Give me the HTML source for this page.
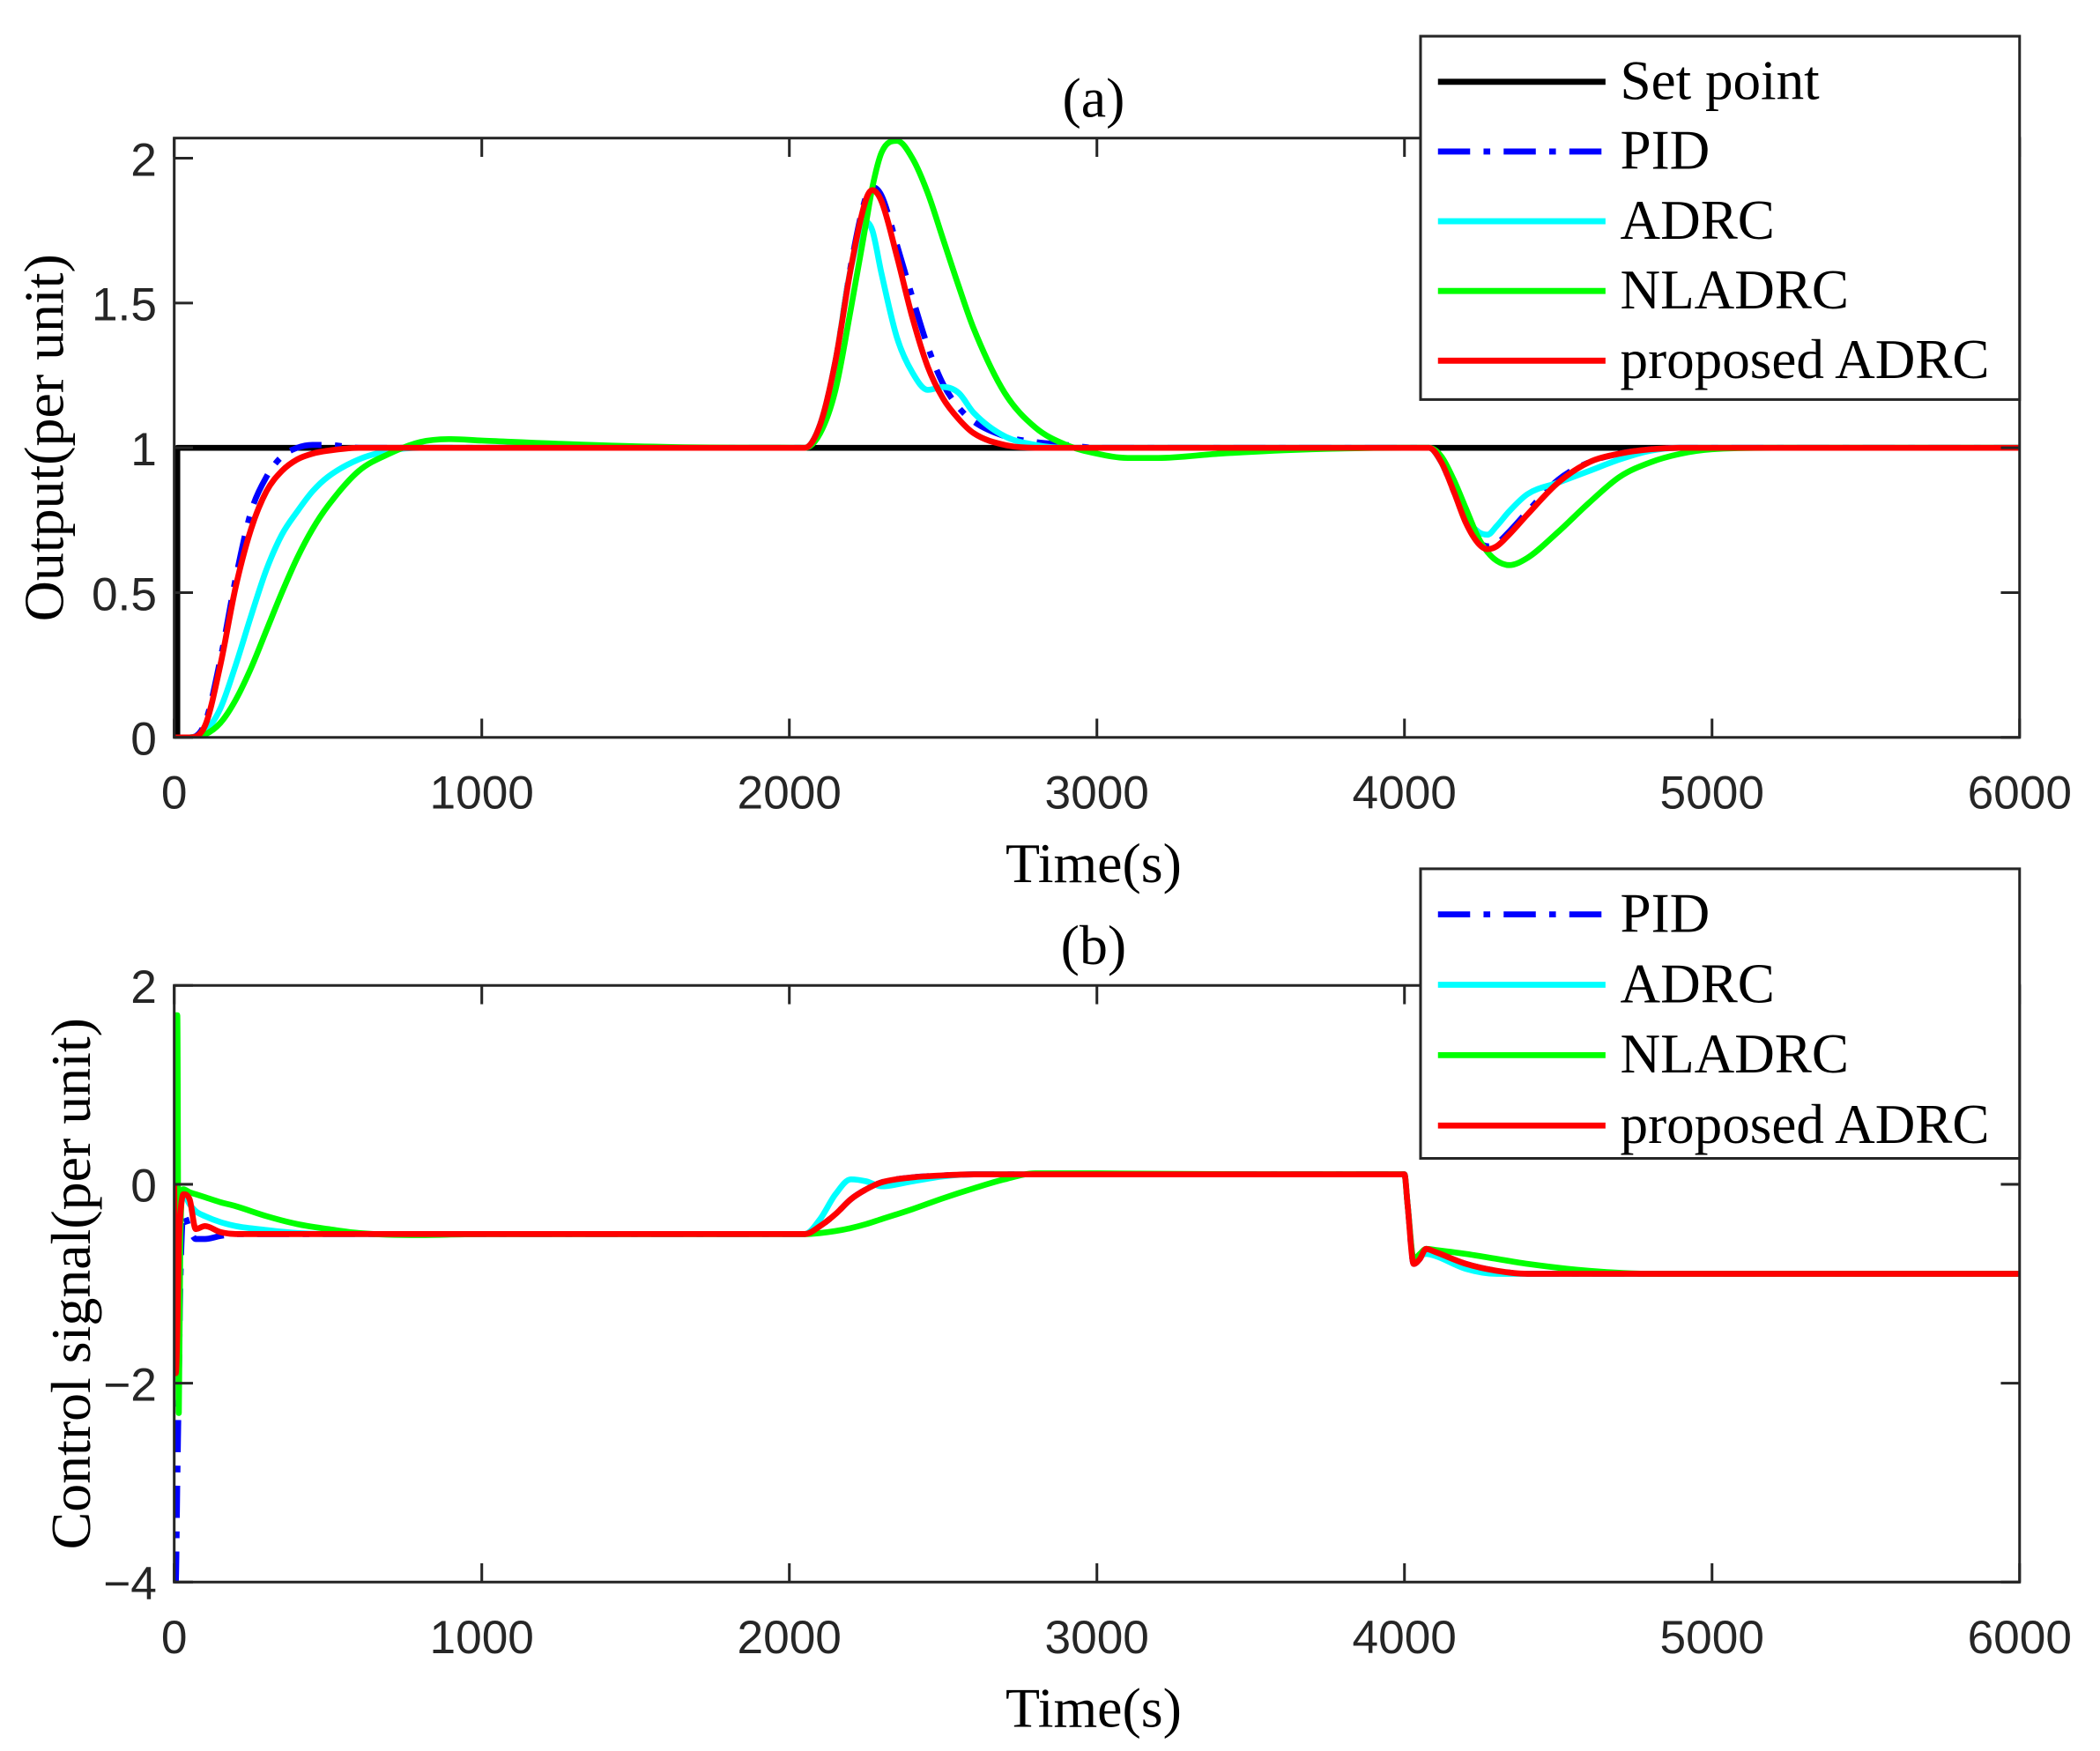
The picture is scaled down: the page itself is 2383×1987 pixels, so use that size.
<!DOCTYPE html>
<html><head><meta charset="utf-8"><style>
html,body{margin:0;padding:0;background:#fff}
svg{display:block}
.tick{font-family:"Liberation Sans",sans-serif;font-size:35px;fill:#262626}
.lab{font-family:"Liberation Serif",serif;font-size:42px;fill:#000}
.leg{font-family:"Liberation Serif",serif;font-size:41.5px;fill:#000}
</style></head><body>
<svg id="fig" width="2383" height="1987" viewBox="0 0 1567 1306" preserveAspectRatio="none" xmlns="http://www.w3.org/2000/svg"></svg>
<script>
// ---- data: panel (a) output ----
const tA = [0,50,100,150,200,250,300,350,400,450,500,600,700,800,900,1000,1500,2000,2050,2100,2150,2200,2250,2270,2300,2350,2400,2450,2500,2550,2600,2700,2800,2900,3000,3100,3200,3400,3700,4000,4080,4120,4160,4200,4240,4270,4300,4340,4400,4500,4600,4700,4800,4900,5000,5200,6000];
const setT = [0,10,10,6000];
const setV = [0,0,1,1];
const pidA = [0,0,0.05,0.27,0.55,0.78,0.9,0.97,1.0,1.01,1.01,1.0,1.0,1.0,1.0,1.0,1.0,1.0,1.0,1.08,1.3,1.63,1.87,1.9,1.87,1.7,1.52,1.35,1.22,1.14,1.09,1.04,1.02,1.01,1.0,1.0,1.0,1.0,1.0,1.0,1.0,0.95,0.85,0.75,0.68,0.66,0.67,0.71,0.78,0.89,0.95,0.98,0.995,1.0,1.0,1.0,1.0];
const adrcA = [0,0,0.02,0.1,0.25,0.42,0.58,0.7,0.78,0.85,0.9,0.96,0.99,1.0,1.0,1.0,1.0,1.0,1.0,1.08,1.3,1.62,1.78,1.75,1.6,1.38,1.26,1.2,1.21,1.19,1.12,1.04,1.01,1.0,1.0,1.0,1.0,1.0,1.0,1.0,1.0,0.95,0.86,0.76,0.71,0.70,0.73,0.78,0.84,0.88,0.92,0.96,0.99,1.0,1.0,1.0,1.0];
const nlA = [0,0,0.01,0.05,0.13,0.24,0.37,0.5,0.62,0.72,0.8,0.92,0.98,1.02,1.03,1.025,1.005,1.0,1.0,1.05,1.2,1.48,1.78,1.9,2.02,2.06,2.0,1.88,1.72,1.56,1.41,1.19,1.07,1.01,0.98,0.965,0.965,0.98,0.995,1.0,1.0,0.97,0.89,0.79,0.69,0.64,0.61,0.595,0.62,0.71,0.81,0.9,0.95,0.98,0.995,1.0,1.0];
const propA = [0,0,0.04,0.25,0.52,0.72,0.85,0.92,0.96,0.98,0.99,1.0,1.0,1.0,1.0,1.0,1.0,1.0,1.0,1.08,1.3,1.62,1.86,1.89,1.85,1.66,1.45,1.28,1.17,1.1,1.05,1.01,1.0,1.0,1.0,1.0,1.0,1.0,1.0,1.0,1.0,0.95,0.85,0.74,0.67,0.65,0.66,0.7,0.77,0.88,0.95,0.98,0.995,1.0,1.0,1.0,1.0];
// ---- data: panel (b) control signal ----
const tB = [0,5,10,15,20,30,50,70,100,150,200,300,400,500,600,800,1000,2000,2050,2100,2150,2200,2250,2300,2400,2500,2600,2700,2800,3000,3500,4000,4010,4030,4050,4070,4100,4200,4300,4400,4600,4800,5000,6000];
const pidB = [-4,-4,-3,-2,-1,-0.3,-0.45,-0.55,-0.55,-0.52,-0.5,-0.5,-0.5,-0.5,-0.5,-0.5,-0.5,-0.5,-0.5,-0.42,-0.3,-0.15,-0.05,0.02,0.07,0.09,0.1,0.1,0.1,0.1,0.1,0.1,-0.2,-0.8,-0.75,-0.65,-0.68,-0.8,-0.87,-0.9,-0.9,-0.9,-0.9,-0.9];
const adrcB = [0,-0.5,-0.3,-0.15,-0.1,-0.1,-0.2,-0.27,-0.32,-0.38,-0.42,-0.46,-0.49,-0.5,-0.5,-0.5,-0.5,-0.5,-0.5,-0.35,-0.1,0.05,0.03,-0.02,0.03,0.08,0.1,0.1,0.1,0.1,0.1,0.1,-0.2,-0.75,-0.72,-0.7,-0.72,-0.85,-0.9,-0.9,-0.9,-0.9,-0.9,-0.9];
const nlB = [0,1.7,1.7,-2.3,-0.5,-0.05,-0.08,-0.1,-0.13,-0.18,-0.22,-0.32,-0.4,-0.45,-0.49,-0.51,-0.5,-0.5,-0.5,-0.49,-0.47,-0.44,-0.4,-0.35,-0.25,-0.14,-0.04,0.05,0.11,0.11,0.1,0.1,-0.2,-0.75,-0.7,-0.65,-0.66,-0.7,-0.75,-0.8,-0.87,-0.9,-0.9,-0.9];
const propB = [0,-1.9,-1.5,-0.6,-0.3,-0.1,-0.15,-0.45,-0.42,-0.48,-0.5,-0.5,-0.5,-0.5,-0.5,-0.5,-0.5,-0.5,-0.5,-0.42,-0.3,-0.15,-0.05,0.02,0.07,0.09,0.1,0.1,0.1,0.1,0.1,0.1,-0.2,-0.8,-0.75,-0.65,-0.68,-0.8,-0.87,-0.9,-0.9,-0.9,-0.9,-0.9];
const xTicks = [0,1000,2000,3000,4000,5000,6000];
const yTicksA = [0,0.5,1,1.5,2];
const yTicksB = [-4,-2,0,2];
const yTickLabA = ["0","0.5","1","1.5","2"];
const yTickLabB = ["\u22124","\u22122","0","2"];

const NS = "http://www.w3.org/2000/svg";
const svg = document.getElementById('fig');
function el(tag, attrs, parent){
  const e = document.createElementNS(NS, tag);
  for (const k in attrs) e.setAttribute(k, attrs[k]);
  (parent||svg).appendChild(e);
  return e;
}
const X0 = 130, X1 = 1507;
const xs = t => X0 + (t/6000)*(X1-X0);

function monoPath(P){
  const n = P.length;
  if (n < 3) return P.map((p,i)=>(i?'L':'M')+p[0].toFixed(2)+' '+p[1].toFixed(2)).join(' ');
  const d = [], m = new Array(n).fill(0);
  for (let i=0;i<n-1;i++){ const dx=P[i+1][0]-P[i][0]; d.push(dx>1e-9?(P[i+1][1]-P[i][1])/dx:0); }
  m[0]=d[0]; m[n-1]=d[n-2];
  for (let i=1;i<n-1;i++){ m[i] = (d[i-1]*d[i]<=0)?0:(d[i-1]+d[i])/2; }
  for (let i=0;i<n-1;i++){
    if (Math.abs(d[i])<1e-12){ m[i]=0; m[i+1]=0; continue; }
    const a=m[i]/d[i], b=m[i+1]/d[i], s=a*a+b*b;
    if (s>9){ const t=3/Math.sqrt(s); m[i]=t*a*d[i]; m[i+1]=t*b*d[i]; }
  }
  let out = 'M'+P[0][0].toFixed(2)+' '+P[0][1].toFixed(2);
  for (let i=0;i<n-1;i++){
    const dx=P[i+1][0]-P[i][0];
    if (dx<1e-9){ out+=' L'+P[i+1][0].toFixed(2)+' '+P[i+1][1].toFixed(2); continue; }
    const c1x=P[i][0]+dx/3, c1y=P[i][1]+m[i]*dx/3, c2x=P[i+1][0]-dx/3, c2y=P[i+1][1]-m[i+1]*dx/3;
    out+=' C'+c1x.toFixed(2)+' '+c1y.toFixed(2)+' '+c2x.toFixed(2)+' '+c2y.toFixed(2)+' '+P[i+1][0].toFixed(2)+' '+P[i+1][1].toFixed(2);
  }
  return out;
}

function panel(cfg){
  const ys = v => cfg.yPix0 + (v - cfg.v0)*(cfg.yPix1 - cfg.yPix0)/(cfg.v1 - cfg.v0);
  const g = el('g', {});
  
  
  const clipId = cfg.name + '-clip';
  const defs = el('defs', {}, g);
  const cp = el('clipPath', {id: clipId}, defs);
  el('rect', {x: X0, y: cfg.top, width: X1-X0, height: cfg.bottom-cfg.top}, cp);
  const sg = el('g', {'clip-path': 'url(#' + clipId + ')'}, g);
  cfg.series.forEach(s => {
    const pts = s.t.map((t,i) => [xs(t), ys(s.v[i])]);
    const d = s.sharp ? pts.map((p,i)=>(i?'L':'M')+p[0].toFixed(2)+' '+p[1].toFixed(2)).join(' ') : monoPath(pts);
    const p = el('path', {d: d, fill: 'none', stroke: s.color, 'stroke-width': 4.4, 'stroke-linejoin': 'round'}, sg);
    if (s.dash) p.setAttribute('stroke-dasharray', s.dash);
    
    
  });
  const box = el('rect', {x: X0, y: cfg.top, width: X1-X0, height: cfg.bottom-cfg.top, fill: 'none', stroke: '#262626', 'stroke-width': 2}, g);
  
  
  xTicks.forEach(t => {
    el('line', {x1: xs(t), x2: xs(t), y1: cfg.bottom, y2: cfg.bottom-14, stroke: '#262626', 'stroke-width': 2}, g);
    el('line', {x1: xs(t), x2: xs(t), y1: cfg.top, y2: cfg.top+14, stroke: '#262626', 'stroke-width': 2}, g);
    const tx = el('text', {x: xs(t), y: cfg.bottom + 53, 'text-anchor': 'middle', class: 'tick'}, g);
    tx.textContent = String(t);
    
    
  });
  cfg.yTicks.forEach((v,i) => {
    el('line', {x1: X0, x2: X0+14, y1: ys(v), y2: ys(v), stroke: '#262626', 'stroke-width': 2}, g);
    el('line', {x1: X1, x2: X1-14, y1: ys(v), y2: ys(v), stroke: '#262626', 'stroke-width': 2}, g);
    const tx = el('text', {x: 117, y: ys(v) + 13, 'text-anchor': 'end', class: 'tick'}, g);
    tx.textContent = cfg.yLabs[i];
    
    
  });
  const ttl = el('text', {x: 816, y: cfg.top - 16, 'text-anchor': 'middle', class: 'lab'}, g);
  ttl.textContent = cfg.title;
  
  
  const xl = el('text', {x: 816, y: cfg.bottom + 108, 'text-anchor': 'middle', class: 'lab'}, g);
  xl.textContent = 'Time(s)';
  
  
  const yl = el('text', {x: 0, y: 0, 'text-anchor': 'middle', class: 'lab', transform: 'translate(' + cfg.ylx + ',' + ((cfg.top+cfg.bottom)/2) + ') rotate(-90)'}, g);
  yl.textContent = cfg.ylabel;
  
  
  const lg = el('g', {}, g);
  
  
  el('rect', {x: 1060, y: cfg.legTop, width: 447, height: cfg.legH, fill: '#fff', stroke: '#262626', 'stroke-width': 2}, lg);
  cfg.legend.forEach((s,i) => {
    const y = cfg.legY0 + i*cfg.legStep;
    const ln = el('line', {x1: 1073, x2: 1198, y1: y, y2: y, stroke: s.color, 'stroke-width': 4.5}, lg);
    if (s.dash) ln.setAttribute('stroke-dasharray', s.dash);
    
    
    const tx = el('text', {x: 1209, y: y + 13, class: 'leg'}, lg);
    tx.textContent = s.label;
    
    
  });
}
const DD = '24 10 5 10';
panel({name:'panel-a', top:103, bottom:550, v0:0, v1:2, yPix0:550, yPix1:118,
  yTicks:yTicksA, yLabs:yTickLabA, title:'(a)', ylabel:'Output(per unit)', ylx:47,
  series:[
    {name:'setpoint-line', t:setT, v:setV, color:'#000', sharp:true},
    {name:'pid-line', t:tA, v:pidA, color:'#0000ff', dash:DD},
    {name:'adrc-line', t:tA, v:adrcA, color:'#00ffff'},
    {name:'nladrc-line', t:tA, v:nlA, color:'#00ff00'},
    {name:'proposed-adrc-line', t:tA, v:propA, color:'#ff0000'}],
  legTop:27, legH:271, legY0:61, legStep:52,
  legend:[{label:'Set point',color:'#000'},{label:'PID',color:'#0000ff',dash:DD},{label:'ADRC',color:'#00ffff'},{label:'NLADRC',color:'#00ff00'},{label:'proposed ADRC',color:'#ff0000'}]
});
panel({name:'panel-b', top:735, bottom:1180, v0:2, v1:-4, yPix0:735, yPix1:1180,
  yTicks:yTicksB, yLabs:yTickLabB, title:'(b)', ylabel:'Control signal(per unit)', ylx:67,
  series:[
    {name:'pid-control-line', t:tB, v:pidB, color:'#0000ff', dash:DD},
    {name:'adrc-control-line', t:tB, v:adrcB, color:'#00ffff'},
    {name:'nladrc-control-line', t:tB, v:nlB, color:'#00ff00'},
    {name:'proposed-adrc-control-line', t:tB, v:propB, color:'#ff0000'}],
  legTop:648, legH:216, legY0:682, legStep:52.5,
  legend:[{label:'PID',color:'#0000ff',dash:DD},{label:'ADRC',color:'#00ffff'},{label:'NLADRC',color:'#00ff00'},{label:'proposed ADRC',color:'#ff0000'}]
});
</script>
</body></html>
